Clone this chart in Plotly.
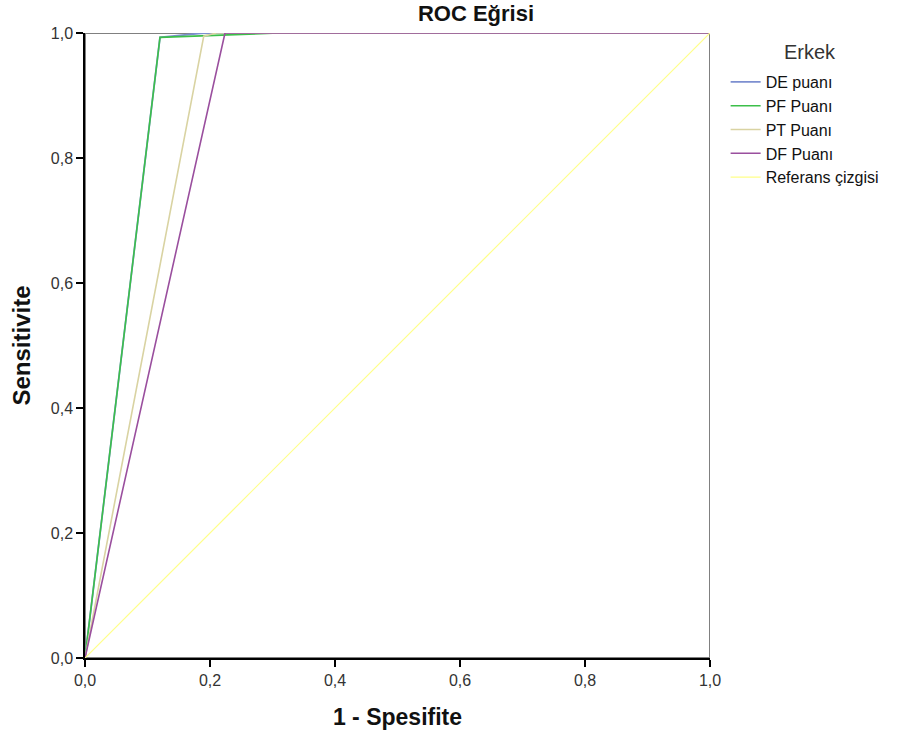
import plotly.graph_objects as go

# Data
fpr_de = [0.0, 0.12, 0.19, 1.0]
tpr_de = [0.0, 0.993, 1.0, 1.0]
fpr_pf = [0.0, 0.12, 0.31, 1.0]
tpr_pf = [0.0, 0.993, 1.0, 1.0]
fpr_pt = [0.0, 0.19, 0.21, 1.0]
tpr_pt = [0.0, 0.995, 1.0, 1.0]
fpr_df = [0.0, 0.224, 1.0]
tpr_df = [0.0, 1.0, 1.0]
fpr_ref = [0.0, 1.0]
tpr_ref = [0.0, 1.0]
names = ["DE puanı", "PF Puanı", "PT Puanı", "DF Puanı", "Referans çizgisi"]
colors = ["#7d8fd0", "#3cbf4a", "#d9d3a2", "#9a4f9e", "#ffff88"]
tickvals = [0, 0.2, 0.4, 0.6, 0.8, 1.0]
legend_title = "Erkek"

fig = go.Figure()
series = [(fpr_de, tpr_de), (fpr_pf, tpr_pf), (fpr_pt, tpr_pt), (fpr_df, tpr_df), (fpr_ref, tpr_ref)]
widths = [1.8, 1.6, 1.6, 1.6, 1.2]
for (x, y), n, c, w in zip(series, names, colors, widths):
    fig.add_trace(go.Scatter(x=x, y=y, mode="lines", name=n,
                             line=dict(color=c, width=w)))

fig.add_shape(type="rect", xref="x", yref="y", x0=0, y0=0, x1=1, y1=1,
              line=dict(color="#808080", width=2), layer="below")

font = "Liberation Sans, Arial, sans-serif"
axis_common = dict(range=[0, 1], tickvals=tickvals, tickformat=".1f",
                   showgrid=False, zeroline=False, showline=True,
                   linecolor="black", linewidth=1.5, ticks="outside",
                   ticklen=7, tickcolor="black", tickwidth=1.5,
                   tickfont=dict(family=font, size=16, color="#333"))
fig.update_xaxes(**axis_common,
                 title=dict(text="<b>1 - Spesifite</b>", font=dict(family=font, size=23, color="#111"), standoff=21))
fig.update_yaxes(**axis_common,
                 title=dict(text="<b>Sensitivite</b>", font=dict(family=font, size=24, color="#111"), standoff=13))

fig.add_annotation(text=legend_title, xref="paper", yref="paper",
                   x=(810 - 85) / 625, y=(658 - 52) / 625, xanchor="center", yanchor="middle",
                   showarrow=False, font=dict(family=font, size=20, color="#333"))

fig.update_layout(
    width=900, height=742,
    separators=",.",
    plot_bgcolor="white", paper_bgcolor="white",
    margin=dict(l=85, r=190, t=33, b=84, autoexpand=False),
    title=dict(text="<b>ROC Eğrisi</b>", x=476/900, xanchor="center", y=0.993, yanchor="top",
               font=dict(family=font, size=22, color="#111")),
    legend=dict(x=1.025, xanchor="left", y=(658 - 65) / 625, yanchor="top",
                font=dict(family=font, size=16, color="#111"),
                tracegroupgap=0, itemwidth=30, bgcolor="rgba(0,0,0,0)"),
)

fig.write_html("out.html", config={"displayModeBar": False},
               post_script="document.body.style.margin='0';")
